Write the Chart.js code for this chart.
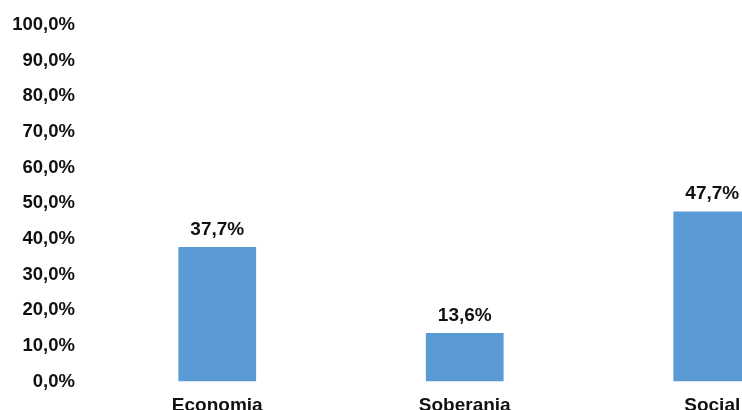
<!DOCTYPE html>
<html>
<head>
<meta charset="utf-8">
<script src="https://cdn.jsdelivr.net/npm/chart.js@4/dist/chart.umd.min.js"></script>
<style>
  html, body { margin: 0; padding: 0; background: #fff; overflow: hidden; width: 742px; height: 410px; }
  #wrap { width: 836px; height: 410px; }
</style>
</head>
<body>
<div id="wrap"><canvas id="c" width="836" height="410"></canvas></div>
<script>
const categories = ['Economia', 'Soberania', 'Social'];
const shares = [37.7, 13.6, 47.7];
const yTicks = [0, 10, 20, 30, 40, 50, 60, 70, 80, 90, 100];

const FONT = '"Liberation Sans", Arial, sans-serif';
const fmt = v => v.toFixed(1).replace('.', ',') + '%';

// Percentage labels above each bar
const valueLabels = {
  id: 'valueLabels',
  afterDatasetsDraw(chart) {
    const ctx = chart.ctx;
    const meta = chart.getDatasetMeta(0);
    ctx.save();
    ctx.font = 'bold 19px ' + FONT;
    ctx.fillStyle = '#111';
    ctx.textAlign = 'center';
    ctx.textBaseline = 'alphabetic';
    meta.data.forEach((bar, i) => {
      ctx.fillText(fmt(shares[i]), bar.x, bar.y - 12.5);
    });
    ctx.restore();
  }
};

new Chart(document.getElementById('c'), {
  type: 'bar',
  data: {
    labels: categories,
    datasets: [{
      data: shares,
      backgroundColor: '#5B9BD5',
      borderWidth: 0,
      categoryPercentage: 1,
      barPercentage: 0.314
    }]
  },
  options: {
    responsive: false,
    animation: false,
    devicePixelRatio: 1,
    layout: { padding: { top: 25, right: 0, bottom: 0, left: 0 } },
    plugins: { legend: { display: false }, tooltip: { enabled: false } },
    scales: {
      x: {
        grid: { display: false },
        border: { display: false },
        ticks: {
          color: '#111',
          font: { family: FONT, size: 19, weight: 'bold' },
          padding: 5,
          maxRotation: 0
        },
        afterFit(scale) { scale.height = 28.5; }
      },
      y: {
        min: 0,
        max: 100,
        grid: { display: false },
        border: { display: false },
        afterBuildTicks(scale) { scale.ticks = yTicks.map(v => ({ value: v })); },
        ticks: {
          color: '#111',
          font: { family: FONT, size: 18.5, weight: 'bold' },
          padding: 10.5,
          callback: v => fmt(v)
        },
        afterFit(scale) { scale.width = 93.5; }
      }
    }
  },
  plugins: [valueLabels]
});
</script>
</body>
</html>
